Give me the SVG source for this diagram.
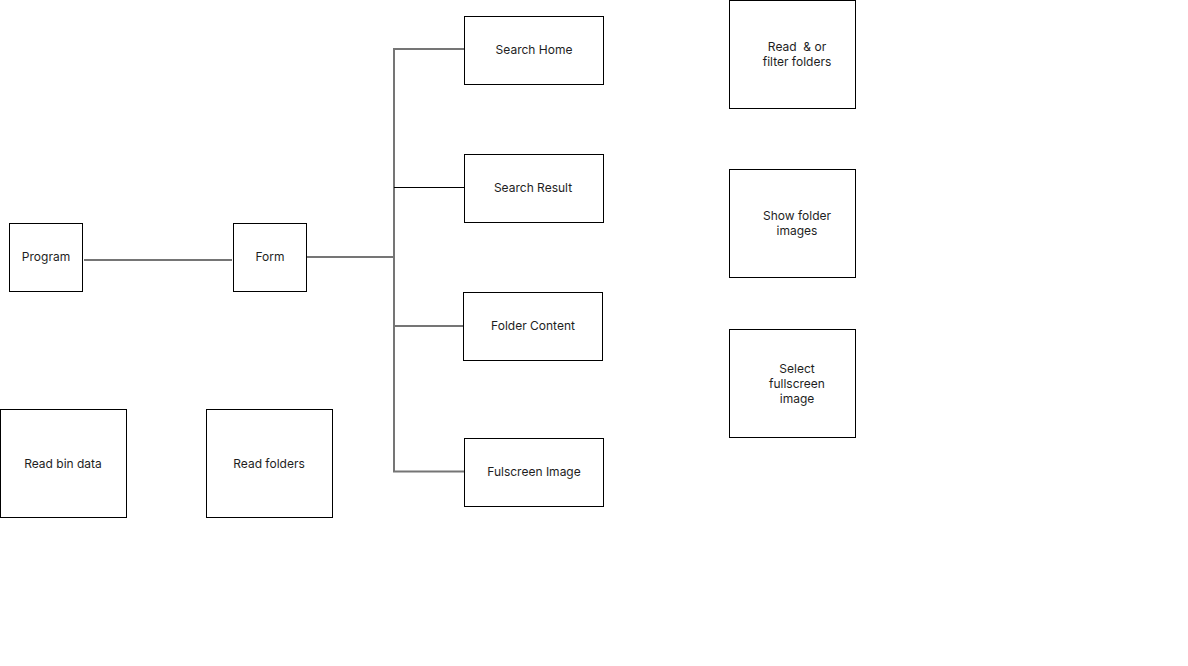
<svg xmlns="http://www.w3.org/2000/svg" width="1188" height="666" viewBox="0 0 1188 666">
<style>
.box{fill:#fff;stroke:#000;stroke-width:1}
.lbl{font-family:Inter,"Liberation Sans",sans-serif;font-size:12px;fill:#1e1e1e;text-anchor:middle;dominant-baseline:central;white-space:pre}
.wire{fill:none;stroke:#757575;stroke-width:2}
.thin{fill:none;stroke:#000;stroke-width:1}
</style>
<rect width="1188" height="666" fill="#fff"/>
<g id="connectors">
<line class="wire" x1="84" y1="260" x2="232" y2="260"/>
<line class="wire" x1="307" y1="257" x2="395" y2="257"/>
<line class="wire" x1="394" y1="48" x2="394" y2="472"/>
<line class="wire" x1="393" y1="49" x2="468" y2="49"/>
<line class="thin" x1="394" y1="187.5" x2="468" y2="187.5"/>
<line class="wire" x1="394" y1="326" x2="463" y2="326"/>
<line class="wire" x1="393" y1="471.5" x2="464" y2="471.5"/>
</g>
<g id="program"><rect class="box" x="9.5" y="223.5" width="73" height="68"/><text class="lbl" x="46" y="256">Program</text></g>
<g id="form"><rect class="box" x="233.5" y="223.5" width="73" height="68"/><text class="lbl" x="270" y="256">Form</text></g>
<g id="search-home"><rect class="box" x="464.5" y="16.5" width="139" height="68"/><text class="lbl" x="534" y="49">Search Home</text></g>
<g id="search-result"><rect class="box" x="464.5" y="154.5" width="139" height="68"/><text class="lbl" x="533" y="187">Search Result</text></g>
<g id="folder-content"><rect class="box" x="463.5" y="292.5" width="139" height="68"/><text class="lbl" x="533" y="325">Folder Content</text></g>
<g id="fulscreen-image"><rect class="box" x="464.5" y="438.5" width="139" height="68"/><text class="lbl" x="534" y="471">Fulscreen Image</text></g>
<g id="read-filter"><rect class="box" x="729.5" y="0.5" width="126" height="108"/><text class="lbl" x="797" y="46">Read  &amp; or</text><text class="lbl" x="797" y="61">filter folders</text></g>
<g id="show-folder-images"><rect class="box" x="729.5" y="169.5" width="126" height="108"/><text class="lbl" x="797" y="215">Show folder</text><text class="lbl" x="797" y="230">images</text></g>
<g id="select-fullscreen"><rect class="box" x="729.5" y="329.5" width="126" height="108"/><text class="lbl" x="797" y="368">Select</text><text class="lbl" x="797" y="383">fullscreen</text><text class="lbl" x="797" y="398">image</text></g>
<g id="read-bin-data"><rect class="box" x="0.5" y="409.5" width="126" height="108"/><text class="lbl" x="63" y="463">Read bin data</text></g>
<g id="read-folders"><rect class="box" x="206.5" y="409.5" width="126" height="108"/><text class="lbl" x="269" y="463">Read folders</text></g>
</svg>
